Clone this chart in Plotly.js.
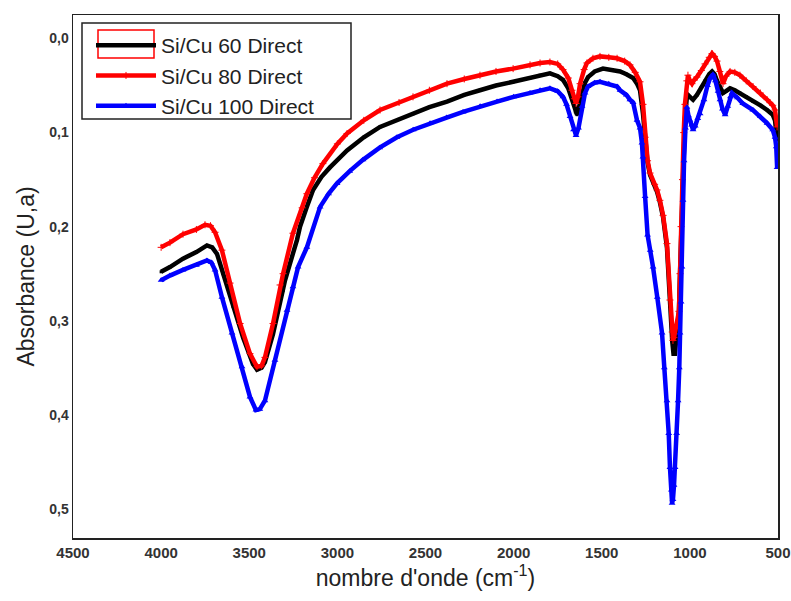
<!DOCTYPE html>
<html>
<head>
<meta charset="utf-8">
<script src="https://cdn.plot.ly/plotly-3.0.1.min.js"></script>
<style>html,body{margin:0;padding:0;background:#fff;}#chart{width:791px;height:601px;}</style>
</head>
<body>
<div id="chart"></div>
<script>
// Series names
const seriesNames = ["Si/Cu 60 Direct", "Si/Cu 80 Direct", "Si/Cu 100 Direct"];

// Si/Cu 60 Direct (black)
const wn60 = [4000,3950,3876,3800,3740,3710,3683,3649,3592,3535,3479,3456,3430,3411,3365,3308,3297,3229,3212,3175,3138,3090,3042,2945,2850,2758,2650,2571,2478,2378,2280,2191,2100,2003,1907,1850,1794,1750,1720,1690,1669,1650,1640,1625,1612,1595,1578,1540,1493,1440,1396,1360,1322,1300,1283,1266,1254,1240,1226,1200,1186,1170,1152,1130,1113,1100,1093,1085,1075,1062,1056,1050,1042,1035,1028,1017,1011,1000,982,960,935,914,890,874,860,846,830,812,795,772,745,716,680,642,600,562,530,517,505];
const abs60 = [0.248,0.243,0.234,0.227,0.220,0.222,0.229,0.250,0.285,0.318,0.346,0.352,0.350,0.344,0.314,0.268,0.257,0.214,0.200,0.180,0.161,0.147,0.137,0.119,0.105,0.094,0.086,0.080,0.073,0.067,0.060,0.055,0.050,0.046,0.042,0.039,0.037,0.040,0.044,0.053,0.065,0.078,0.081,0.070,0.058,0.047,0.041,0.035,0.032,0.033,0.035,0.038,0.042,0.048,0.055,0.080,0.110,0.132,0.145,0.156,0.163,0.174,0.190,0.222,0.285,0.322,0.335,0.335,0.315,0.290,0.250,0.205,0.160,0.120,0.085,0.062,0.060,0.062,0.065,0.060,0.052,0.045,0.038,0.035,0.038,0.045,0.052,0.058,0.056,0.053,0.055,0.058,0.062,0.067,0.071,0.076,0.081,0.087,0.108];

// Si/Cu 80 Direct (red)
const wn80 = [4000,3950,3876,3800,3751,3720,3694,3655,3609,3552,3496,3456,3430,3411,3365,3325,3308,3252,3200,3173,3130,3082,3000,2945,2850,2758,2650,2571,2478,2378,2280,2191,2100,2003,1907,1850,1794,1750,1720,1690,1669,1655,1646,1635,1623,1600,1584,1550,1510,1460,1413,1370,1340,1310,1283,1266,1254,1240,1226,1200,1186,1170,1152,1130,1113,1100,1096,1090,1075,1062,1056,1050,1042,1035,1028,1017,1011,1000,988,975,960,935,914,890,874,860,846,830,812,795,772,745,716,680,642,600,562,530,517,505];
const abs80 = [0.222,0.217,0.208,0.203,0.198,0.199,0.206,0.225,0.260,0.303,0.335,0.349,0.348,0.339,0.303,0.262,0.250,0.207,0.180,0.165,0.148,0.133,0.112,0.101,0.087,0.076,0.068,0.062,0.055,0.048,0.043,0.039,0.035,0.032,0.028,0.026,0.025,0.027,0.033,0.042,0.055,0.064,0.069,0.062,0.048,0.033,0.026,0.021,0.019,0.020,0.021,0.024,0.028,0.036,0.046,0.070,0.105,0.130,0.143,0.155,0.161,0.172,0.188,0.218,0.278,0.312,0.321,0.318,0.305,0.290,0.250,0.200,0.150,0.100,0.070,0.045,0.039,0.045,0.048,0.044,0.041,0.034,0.027,0.020,0.016,0.019,0.024,0.035,0.048,0.040,0.035,0.036,0.039,0.045,0.051,0.058,0.065,0.071,0.076,0.094];

// Si/Cu 100 Direct (blue)
const wn100 = [4000,3950,3876,3800,3740,3715,3694,3655,3598,3541,3496,3462,3440,3411,3354,3286,3252,3223,3173,3098,3050,3002,2930,2855,2760,2662,2570,2474,2380,2287,2190,2094,2000,1907,1850,1794,1750,1720,1700,1680,1660,1646,1632,1612,1595,1578,1540,1510,1460,1413,1396,1360,1340,1322,1300,1283,1272,1266,1254,1240,1225,1209,1185,1158,1145,1130,1120,1113,1105,1101,1096,1090,1084,1075,1067,1060,1056,1050,1045,1039,1033,1025,1017,1008,1000,990,982,970,955,942,920,900,885,869,855,840,829,815,800,785,770,761,730,700,642,600,562,530,517,510,505];
const abs100 = [0.257,0.252,0.246,0.241,0.236,0.238,0.246,0.275,0.313,0.349,0.381,0.395,0.394,0.385,0.342,0.289,0.264,0.243,0.222,0.179,0.165,0.154,0.141,0.129,0.116,0.105,0.097,0.090,0.084,0.078,0.072,0.067,0.062,0.058,0.055,0.053,0.056,0.062,0.070,0.083,0.097,0.103,0.095,0.072,0.058,0.051,0.047,0.046,0.048,0.051,0.055,0.060,0.065,0.068,0.087,0.095,0.111,0.126,0.168,0.209,0.225,0.243,0.275,0.313,0.350,0.385,0.420,0.456,0.480,0.494,0.490,0.475,0.456,0.420,0.385,0.350,0.313,0.280,0.243,0.172,0.130,0.095,0.073,0.082,0.087,0.092,0.097,0.093,0.085,0.080,0.065,0.050,0.042,0.038,0.045,0.056,0.065,0.075,0.081,0.072,0.062,0.058,0.063,0.069,0.076,0.083,0.090,0.097,0.105,0.115,0.137];

// Axis tick values / labels
const xTicks = [4500,4000,3500,3000,2500,2000,1500,1000,500];
const yTicks = [0.0,0.1,0.2,0.3,0.4,0.5];
const yTickText = ["0,0","0,1","0,2","0,3","0,4","0,5"];

const traces = [
  {x: wn60, y: abs60, name: seriesNames[0], type: 'scatter', mode: 'lines+markers',
   line: {color: '#000000', width: 4.5}, marker: {symbol: 'square', size: 3, color: '#000000'}},
  {x: wn80, y: abs80, name: seriesNames[1], type: 'scatter', mode: 'lines+markers',
   line: {color: '#ff0000', width: 4.5}, marker: {symbol: 'cross-thin', size: 5, color: '#ff0000', line: {color: '#ff0000', width: 1}}},
  {x: wn100, y: abs100, name: seriesNames[2], type: 'scatter', mode: 'lines+markers',
   line: {color: '#0000ff', width: 4.5}, marker: {symbol: 'triangle-up', size: 6, color: '#0000ff'}}
];

const L = 73, R = 13, T = 15, B = 63, W = 791, H = 601;
const pw = W - L - R, ph = H - T - B;
function px2paperX(px){ return (px - L) / pw; }
function px2paperY(py){ return 1 - (py - T) / ph; }

const layout = {
  width: W, height: H,
  margin: {l: L, r: R, t: T, b: B},
  paper_bgcolor: '#ffffff', plot_bgcolor: '#ffffff',
  font: {family: 'Arial, "Liberation Sans", sans-serif', color: '#222'},
  showlegend: true,
  legend: {
    x: px2paperX(91), y: px2paperY(25), xanchor: 'left', yanchor: 'top',
    bgcolor: 'rgba(255,255,255,0)', borderwidth: 0,
    font: {size: 21, color: '#222'}, itemwidth: 60, tracegroupgap: 0
  },
  xaxis: {
    range: [4500, 500], tickvals: xTicks, ticks: '', showgrid: false, zeroline: false,
    showline: true, mirror: true, linecolor: '#222', linewidth: 1.5,
    tickfont: {size: 15, color: '#333', weight: 'bold'},
    title: {text: "nombre d'onde (cm<sup>-1</sup>)", font: {size: 23, color: '#222'}, standoff: 10}
  },
  yaxis: {
    range: [0.531, -0.025], tickvals: yTicks, ticktext: yTickText, ticks: '', showgrid: false, zeroline: false,
    showline: true, mirror: true, linecolor: '#222', linewidth: 1.5,
    tickfont: {size: 14, color: '#333', weight: 'bold'},
    title: {text: "Absorbance (U,a)", font: {size: 23, color: '#222'}, standoff: 8}
  },
  shapes: [
    {type: 'rect', xref: 'paper', yref: 'paper', layer: 'above',
     x0: px2paperX(82), x1: px2paperX(351), y0: px2paperY(23), y1: px2paperY(119),
     line: {color: '#222', width: 1.5}, fillcolor: 'rgba(0,0,0,0)'},
    {type: 'rect', xref: 'paper', yref: 'paper', layer: 'above',
     x0: px2paperX(98), x1: px2paperX(154), y0: px2paperY(30), y1: px2paperY(58),
     line: {color: '#ff0000', width: 1.5}, fillcolor: 'rgba(0,0,0,0)'}
  ]
};

Plotly.newPlot('chart', traces, layout, {displayModeBar: false, staticPlot: true});
</script>
</body>
</html>
